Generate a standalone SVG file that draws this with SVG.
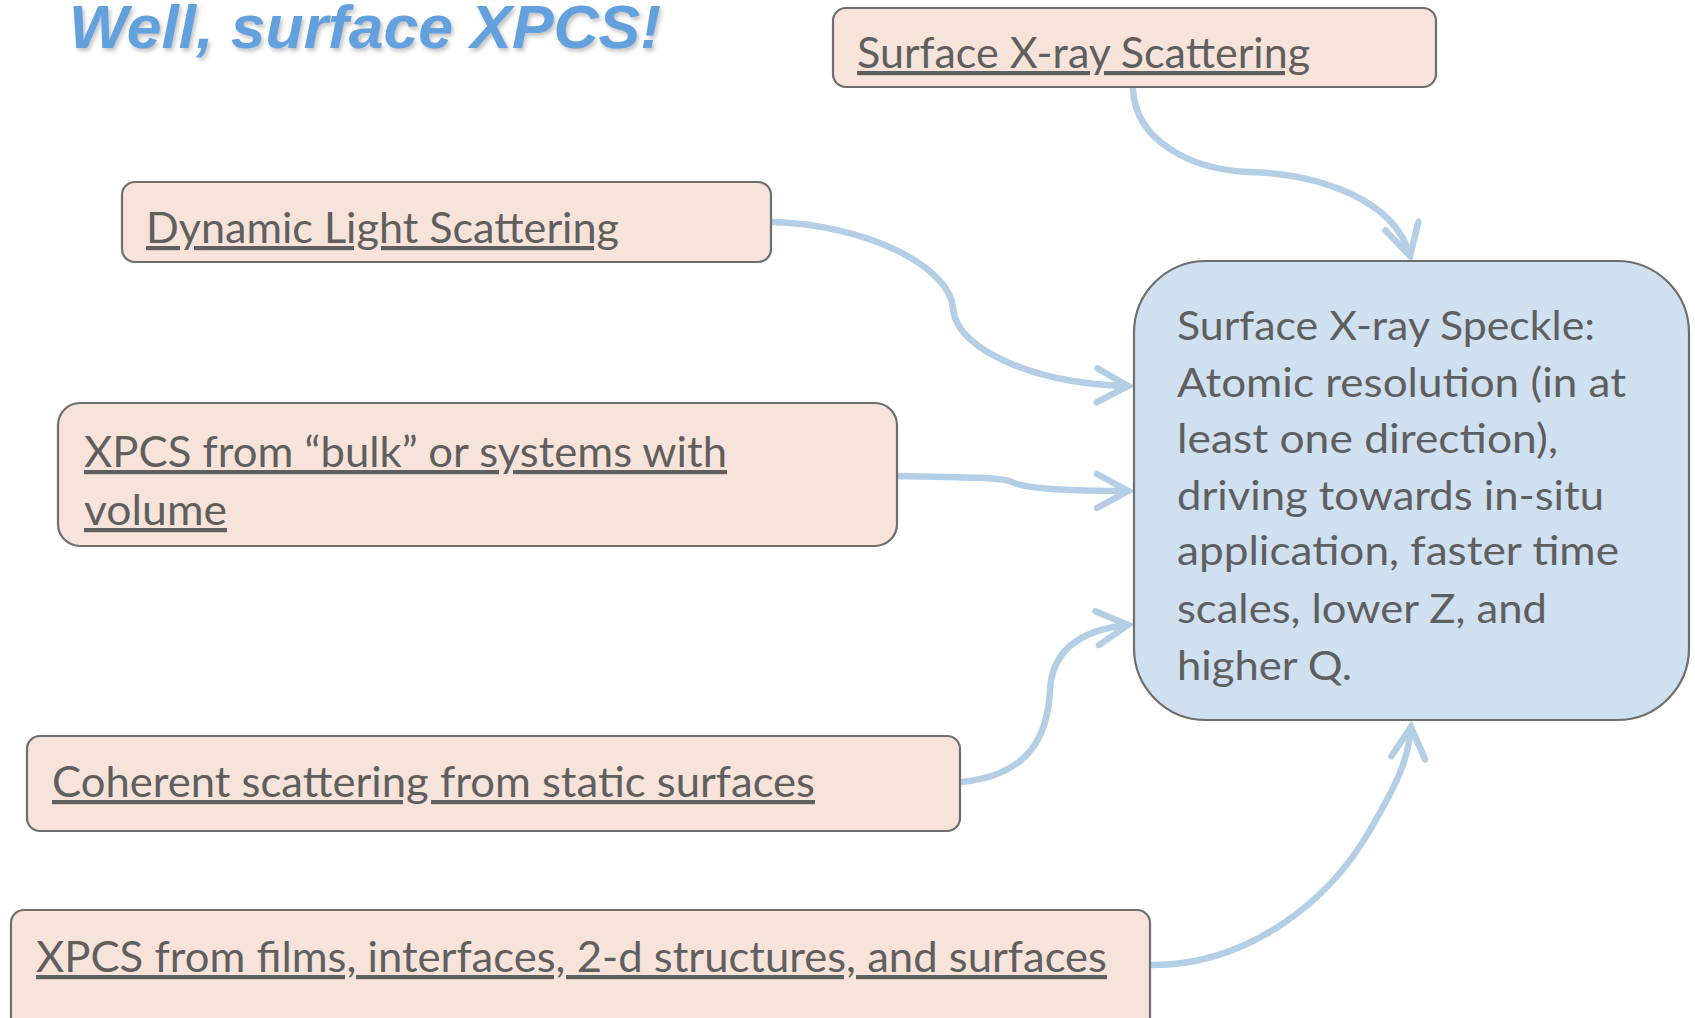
<svg xmlns="http://www.w3.org/2000/svg" width="1695" height="1018" viewBox="0 0 1695 1018">
<style>
.node{fill:#f7e3da;stroke:#6e6e6e;stroke-width:2.2}
.big{fill:#cfe0f1;stroke:#6e6e6e;stroke-width:2.2}
.lbl{font-family:Lato,"Open Sans","Liberation Sans",sans-serif;font-size:42px;fill:#5f5f5f;text-decoration:underline;text-decoration-thickness:3px;text-underline-offset:5px}
.btx{font-family:Lato,"Open Sans","Liberation Sans",sans-serif;font-size:40px;fill:#5f5f5f}
.con{fill:none;stroke:#b4cfe5;stroke-width:6.5;stroke-linecap:round;marker-end:url(#arr)}
.title{font-family:"Liberation Sans",Arial,sans-serif;font-weight:bold;font-style:italic;font-size:62px;fill:#63a0de}
</style>
<defs>
<marker id="arr" markerUnits="userSpaceOnUse" markerWidth="44" markerHeight="44" viewBox="0 0 44 44" refX="38" refY="22" orient="auto">
<path d="M7,5 L38,22 L7,39" fill="none" stroke="#b4cfe5" stroke-width="6.5" stroke-linecap="round" stroke-linejoin="miter"/>
</marker>
<filter id="sh" x="-5%" y="-20%" width="110%" height="150%">
<feDropShadow dx="2" dy="3" stdDeviation="2" flood-color="#777" flood-opacity="0.45"/>
</filter>
</defs>
<rect width="1695" height="1018" fill="#ffffff"/>
<text class="title" x="69" y="48" textLength="592" lengthAdjust="spacingAndGlyphs" filter="url(#sh)">Well, surface XPCS!</text>
<g id="connectors">
<path class="con" d="M1133,89 C1135,140 1190,170 1250,172 C1320,174 1395,200 1410,256"/>
<path class="con" d="M773,222 C870,225 950,268 953,308 C956,352 1040,384 1128,386"/>
<path class="con" d="M899,476 C950,477 1000,477 1012,482 C1025,489 1080,491 1128,491"/>
<path class="con" d="M962,782 C1030,775 1048,735 1050,690 C1052,650 1080,630 1128,625"/>
<path class="con" d="M1152,965 C1250,965 1330,900 1370,830 C1398,782 1408,760 1411,727"/>
</g>
<g id="n-surface-xray-scattering">
<rect class="node" x="833" y="8" width="603" height="79" rx="13"/>
<text class="lbl" x="857" y="68" textLength="453" lengthAdjust="spacingAndGlyphs">Surface X-ray Scattering</text>
</g>
<g id="n-dls">
<rect class="node" x="122" y="182" width="649" height="80" rx="13"/>
<text class="lbl" x="146" y="243" textLength="473" lengthAdjust="spacingAndGlyphs">Dynamic Light Scattering</text>
</g>
<g id="n-xpcs-bulk">
<rect class="node" x="58" y="403" width="839" height="143" rx="22"/>
<text class="lbl" x="84" y="467" textLength="643" lengthAdjust="spacingAndGlyphs">XPCS from “bulk” or systems with</text>
<text class="lbl" x="84" y="525" textLength="143" lengthAdjust="spacingAndGlyphs">volume</text>
</g>
<g id="n-coherent">
<rect class="node" x="27" y="736" width="933" height="95" rx="13"/>
<text class="lbl" x="52" y="797" textLength="763" lengthAdjust="spacingAndGlyphs">Coherent scattering from static surfaces</text>
</g>
<g id="n-xpcs-films">
<rect class="node" x="11" y="910" width="1139" height="130" rx="13"/>
<text class="lbl" x="36" y="972" textLength="1071" lengthAdjust="spacingAndGlyphs">XPCS from films, interfaces, 2-d structures, and surfaces</text>
</g>
<g id="n-surface-speckle">
<rect class="big" x="1134" y="261" width="555" height="459" rx="72"/>
<text class="btx" x="1177" y="340" textLength="418" lengthAdjust="spacingAndGlyphs">Surface X-ray Speckle:</text>
<text class="btx" x="1177" y="397" textLength="449" lengthAdjust="spacingAndGlyphs">Atomic resolution (in at</text>
<text class="btx" x="1177" y="453" textLength="381" lengthAdjust="spacingAndGlyphs">least one direction),</text>
<text class="btx" x="1177" y="510" textLength="427" lengthAdjust="spacingAndGlyphs">driving towards in-situ</text>
<text class="btx" x="1177" y="565" textLength="442" lengthAdjust="spacingAndGlyphs">application, faster time</text>
<text class="btx" x="1177" y="623" textLength="370" lengthAdjust="spacingAndGlyphs">scales, lower Z, and</text>
<text class="btx" x="1177" y="680" textLength="175" lengthAdjust="spacingAndGlyphs">higher Q.</text>
</g>
</svg>
